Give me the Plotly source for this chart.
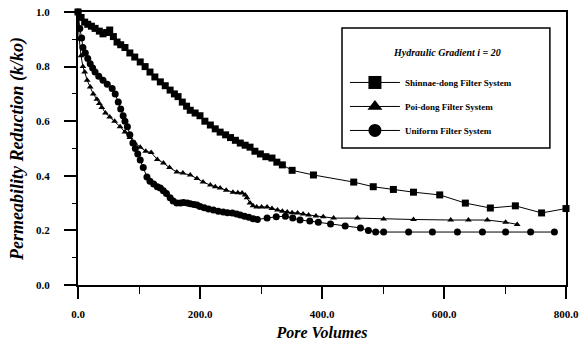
import plotly.graph_objects as go

# Shinnae-dong Filter System (squares)
sh_x = [0, 5, 11, 16, 22, 28, 35, 41, 47, 52, 58, 64, 70, 77, 85, 93, 102, 110, 118, 126,
        135, 143, 151, 158, 164, 171, 178, 184, 192, 200, 208, 217, 225, 233, 242, 250, 258,
        266, 274, 282, 290, 299, 308, 318, 326, 335, 351, 386, 452, 484, 517, 550, 593, 635,
        676, 717, 760, 800]
sh_y = [1.0, 0.98, 0.963, 0.955, 0.948, 0.94, 0.93, 0.92, 0.925, 0.934, 0.91, 0.89, 0.88,
        0.87, 0.85, 0.835, 0.817, 0.80, 0.78, 0.762, 0.744, 0.73, 0.714, 0.70, 0.69, 0.67,
        0.655, 0.64, 0.63, 0.62, 0.60, 0.586, 0.572, 0.56, 0.55, 0.54, 0.53, 0.52, 0.512,
        0.505, 0.49, 0.48, 0.47, 0.465, 0.45, 0.44, 0.42, 0.403, 0.377, 0.36, 0.35, 0.34,
        0.33, 0.30, 0.282, 0.29, 0.264, 0.28]

# Poi-dong Filter System (triangles)
po_x = [0, 2, 5, 8, 11, 15, 20, 25, 31, 35, 39, 45, 52, 60, 69, 77, 85, 93, 102, 111, 120,
        130, 140, 150, 162, 172, 184, 195, 205, 217, 225, 233, 243, 254, 262, 269, 274, 277,
        282, 287, 293, 301, 310, 318, 327, 335, 343, 351, 360, 369, 378, 390, 402, 419, 458,
        501, 550, 611, 640, 671, 701, 720]
po_y = [1.0, 0.90, 0.84, 0.80, 0.78, 0.75, 0.725, 0.70, 0.68, 0.665, 0.65, 0.63, 0.615, 0.60,
        0.58, 0.56, 0.54, 0.52, 0.505, 0.49, 0.485, 0.46, 0.447, 0.43, 0.414, 0.41, 0.403,
        0.39, 0.377, 0.366, 0.36, 0.355, 0.347, 0.34, 0.338, 0.337, 0.33, 0.32, 0.30, 0.29,
        0.286, 0.286, 0.286, 0.28, 0.275, 0.27, 0.267, 0.265, 0.264, 0.26, 0.256, 0.253,
        0.25, 0.245, 0.245, 0.242, 0.24, 0.238, 0.238, 0.238, 0.23, 0.222]

# Uniform Filter System (circles)
un_x = [0, 3, 6, 8, 12, 16, 20, 24, 28, 34, 41, 48, 56, 61, 66, 70, 74, 77, 81, 85, 90, 94,
        98, 102, 107, 113, 118, 124, 130, 135, 140, 145, 151, 156, 162, 168, 173, 179, 184,
        190, 195, 200, 207, 214, 222, 230, 238, 245, 253, 260, 266, 273, 280, 287, 294, 310,
        325, 340, 352, 364, 380, 394, 414, 438, 463, 476, 488, 501, 542, 581, 622, 663, 701,
        742, 781]
un_y = [1.0, 0.94, 0.905, 0.87, 0.85, 0.83, 0.81, 0.795, 0.78, 0.765, 0.75, 0.735, 0.72, 0.70,
        0.67, 0.645, 0.62, 0.60, 0.58, 0.55, 0.52, 0.50, 0.48, 0.458, 0.43, 0.396, 0.38, 0.37,
        0.36, 0.355, 0.345, 0.335, 0.32, 0.308, 0.30, 0.30, 0.302, 0.30, 0.298, 0.295, 0.293,
        0.288, 0.283, 0.278, 0.275, 0.27, 0.267, 0.265, 0.264, 0.26, 0.256, 0.252, 0.248,
        0.243, 0.24, 0.245, 0.25, 0.252, 0.245, 0.238, 0.234, 0.23, 0.223, 0.216, 0.209, 0.20,
        0.194, 0.194, 0.194, 0.194, 0.194, 0.194, 0.194, 0.194, 0.194]

series_names = ["Shinnae-dong Filter System", "Poi-dong Filter System", "Uniform Filter System"]
series_symbols = ["square", "triangle-up", "circle"]
legend_title = "Hydraulic Gradient i = 20"

x_ticks = [0, 200, 400, 600, 800]
x_labels = ["0.0", "200.0", "400.0", "600.0", "800.0"]
y_ticks = [0.0, 0.2, 0.4, 0.6, 0.8, 1.0]
y_labels = ["0.0", "0.2", "0.4", "0.6", "0.8", "1.0"]

SERIF = "Liberation Serif"

fig = go.Figure()
data_sizes = [7, 6, 7]
for xs, ys, sym, sz in zip([sh_x, po_x, un_x], [sh_y, po_y, un_y], series_symbols, data_sizes):
    fig.add_trace(go.Scatter(x=xs, y=ys, mode="lines+markers", showlegend=False,
                             line=dict(color="black", width=1),
                             marker=dict(symbol=sym, size=sz, color="black"), cliponaxis=False))

# legend-only entries (larger symbols, as in the reference key)
for i, (nm, sym) in enumerate(zip(series_names, series_symbols)):
    fig.add_trace(go.Scatter(x=[None], y=[None], mode="lines+markers", name=nm,
                             legendgroup="g%d" % i,
                             line=dict(color="black", width=1),
                             marker=dict(symbol=sym, size=13, color="black")))

axis_common = dict(showline=True, linecolor="black", linewidth=2, mirror=True,
                   showgrid=False, zeroline=False, ticks="outside", tickcolor="black",
                   tickwidth=2, ticklen=12, automargin=False,
                   tickfont=dict(family=SERIF, size=11, color="black", weight="bold"))

fig.update_xaxes(range=[0, 800], tickvals=x_ticks, ticktext=x_labels,
                 minor=dict(dtick=100, ticks="outside", ticklen=7, tickwidth=1, tickcolor="black"),
                 ticklabelstandoff=6,
                 title=dict(text="Pore Volumes", standoff=8,
                            font=dict(family=SERIF, size=16, color="black", weight="bold", style="italic")),
                 **axis_common)
fig.update_yaxes(range=[0, 1.0], tickvals=y_ticks, ticktext=y_labels,
                 minor=dict(dtick=0.1, ticks="outside", ticklen=4, tickwidth=1, tickcolor="black"),
                 ticklabelstandoff=12,
                 title=dict(text="Permeability Reduction (k/ko)", standoff=8,
                            font=dict(family=SERIF, size=18, color="black", weight="bold", style="italic")),
                 **axis_common)

# legend frame
fig.add_shape(type="rect", xref="paper", yref="paper", x0=0.541, x1=0.967, y0=0.502, y1=0.941,
              line=dict(color="black", width=1.5), fillcolor="white", layer="above")
fig.add_annotation(text=legend_title, xref="paper", yref="paper", x=0.756, y=0.85,
                   showarrow=False, xanchor="center", yanchor="middle",
                   font=dict(family=SERIF, size=10, color="black", weight="bold", style="italic"))

fig.update_layout(
    width=579, height=345,
    margin=dict(l=78, r=13, t=12, b=60),
    paper_bgcolor="white", plot_bgcolor="white",
    showlegend=True,
    legend=dict(x=0.547, y=0.795, xanchor="left", yanchor="top",
                bgcolor="rgba(0,0,0,0)", borderwidth=0,
                itemsizing="trace", itemwidth=50, tracegroupgap=5,
                font=dict(family=SERIF, size=9, color="black", weight="bold")),
)

fig.write_html("out.html")
